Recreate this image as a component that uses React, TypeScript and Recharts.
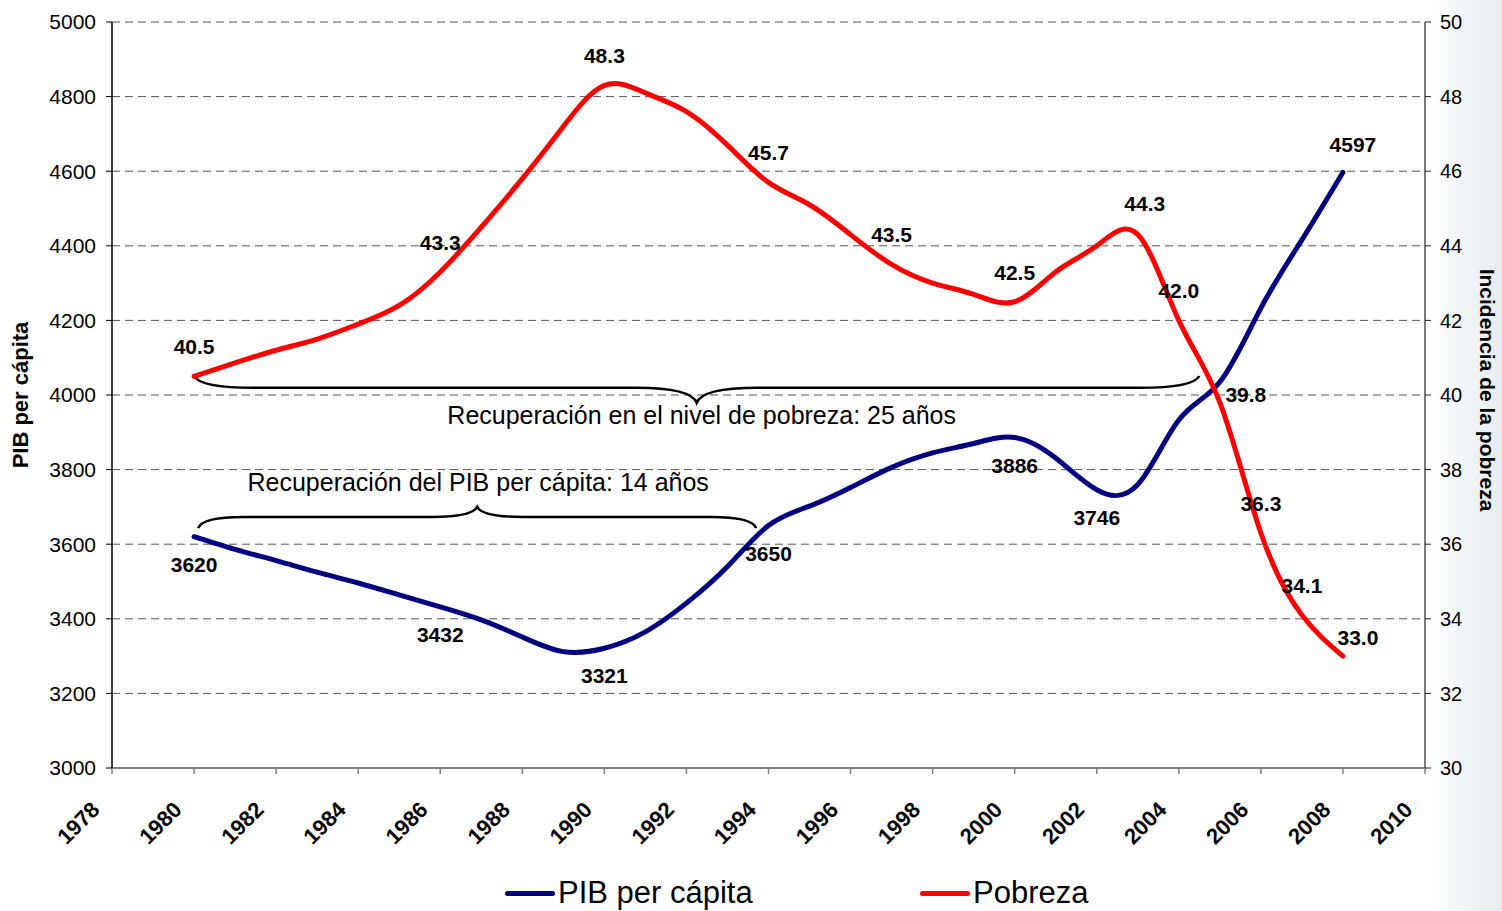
import React from 'react';
import {
  ComposedChart,
  Line,
  XAxis,
  YAxis,
  CartesianGrid,
  ReferenceArea,
  LabelList,
  Legend,
  Label,
} from 'recharts';

// ---------- data ----------
const years = [
  1980, 1981, 1982, 1983, 1984, 1985, 1986, 1987, 1988, 1989, 1990, 1991, 1992, 1993, 1994,
  1995, 1996, 1997, 1998, 1999, 2000, 2001, 2002, 2003, 2004, 2005, 2006, 2007, 2008,
];
const pibPerCapita = [
  3620, 3586, 3556, 3525, 3496, 3464, 3432, 3397, 3351, 3312, 3321, 3365, 3442, 3540, 3650,
  3702, 3752, 3806, 3845, 3870, 3886, 3831, 3746, 3760, 3933, 4035, 4233, 4416, 4597,
];
const pobreza = [
  40.5, 40.86, 41.2, 41.5, 41.9, 42.4, 43.3, 44.5, 45.8, 47.2, 48.3, 48.1, 47.6, 46.7, 45.7,
  45.1, 44.3, 43.5, 43.0, 42.7, 42.5, 43.3, 44.0, 44.3, 42.0, 39.8, 36.3, 34.1, 33.0,
];
const xTicks = [1978, 1980, 1982, 1984, 1986, 1988, 1990, 1992, 1994, 1996, 1998, 2000, 2002, 2004, 2006, 2008, 2010];
const pibTicks = [3000, 3200, 3400, 3600, 3800, 4000, 4200, 4400, 4600, 4800, 5000];
const pobrezaTicks = [30, 32, 34, 36, 38, 40, 42, 44, 46, 48, 50];
const pibLabelYears = [1980, 1986, 1990, 1994, 2000, 2002, 2008];
const pobrezaLabelYears = [1980, 1986, 1990, 1994, 1997, 2000, 2003, 2004, 2005, 2006, 2007, 2008];
const seriesNames = ['PIB per cápita', 'Pobreza'];
const axisTitles = ['PIB per cápita', 'Incidencia de la pobreza'];
const braceTexts = [
  'Recuperación en el nivel de pobreza: 25 años',
  'Recuperación del PIB per cápita: 14 años',
];
// brace extents in data units (years / PIB axis)
const pobrezaBraceX = [1980, 2004.5];
const pobrezaBraceY = [3979, 4051];
const pibBraceX = [1980.1, 1993.7];
const pibBraceY = [3643, 3700];

const data = years.map((year, i) => ({
  year,
  pib: pibPerCapita[i],
  pobreza: pobreza[i],
  pibLabel: pibLabelYears.includes(year) ? String(pibPerCapita[i]) : null,
  pobrezaLabel: pobrezaLabelYears.includes(year) ? pobreza[i].toFixed(1) : null,
}));

// ---------- styles ----------
const FONT = "Arial, 'Liberation Sans', sans-serif";
const NAVY = '#000080';
const RED = '#FF0000';

const pibLabelOffsets: Record<number, [number, number]> = {
  2008: [10, -20],
};
const pobrezaLabelOffsets: Record<number, [number, number]> = {
  2003: [7, -24],
  2005: [26, 0],
  2008: [15, -11],
};

const makeLabel = (offsets: Record<number, [number, number]>, def: [number, number]) => (props: any) => {
  const { value, index } = props;
  if (value === null || value === undefined || value === '') return null;
  const px = props.x ?? props.viewBox?.x;
  const py = props.y ?? props.viewBox?.y;
  const yr = years[index];
  const [dx, dy] = offsets[yr] ?? def;
  return (
    <text
      x={px + dx}
      y={py + dy}
      textAnchor="middle"
      fontFamily={FONT}
      fontSize={21}
      fontWeight="bold"
      fill="#000"
    >
      {value}
    </text>
  );
};

const XTick = (props: any) => {
  const { x, y, payload } = props;
  const tx = x - 11;
  const ty = y + 35;
  return (
    <text
      x={tx}
      y={ty}
      transform={`rotate(-45 ${tx} ${ty})`}
      textAnchor="end"
      fontFamily={FONT}
      fontSize={22}
      fontWeight="bold"
      fill="#000"
    >
      {payload.value}
    </text>
  );
};

const LeftTitle = (props: any) => {
  const vb = props.viewBox || { x: 0, y: 22, width: 112, height: 746 };
  const cx = vb.x + 28;
  const cy = vb.y + vb.height / 2;
  return (
    <text
      x={cx}
      y={cy}
      transform={`rotate(-90 ${cx} ${cy})`}
      textAnchor="middle"
      fontFamily={FONT}
      fontSize={22}
      fontWeight="bold"
      fill="#000"
    >
      {axisTitles[0]}
    </text>
  );
};

const RightTitle = (props: any) => {
  const vb = props.viewBox || { x: 1425, y: 22, width: 77, height: 746 };
  const cx = vb.x + 55;
  const cy = vb.y + vb.height / 2 - 5;
  return (
    <text
      x={cx}
      y={cy}
      transform={`rotate(90 ${cx} ${cy})`}
      textAnchor="middle"
      fontFamily={FONT}
      fontSize={21}
      fontWeight="bold"
      fill="#000"
    >
      {axisTitles[1]}
    </text>
  );
};

// underbrace (tips at top, cusp at bottom) with text below
const PobrezaBrace = (props: any) => {
  const { x, y, width, height } = props;
  const x1 = x;
  const x2 = x + width;
  const xm = x + width / 2;
  const top = y;
  const bottom = y + height;
  const line = top + height * 0.44;
  const d = `M ${x1} ${top} Q ${x1 + 6} ${line} ${x1 + 60} ${line} L ${xm - 60} ${line} Q ${xm - 6} ${line} ${xm} ${bottom} Q ${xm + 6} ${line} ${xm + 60} ${line} L ${x2 - 60} ${line} Q ${x2 - 6} ${line} ${x2} ${top}`;
  return (
    <g>
      <path d={d} fill="none" stroke="#000" strokeWidth={2.5} />
      <text x={xm + 5} y={bottom + 21} textAnchor="middle" fontFamily={FONT} fontSize={25} fill="#000">
        {braceTexts[0]}
      </text>
    </g>
  );
};

// overbrace (tips at bottom, cusp at top) with text above
const PibBrace = (props: any) => {
  const { x, y, width, height } = props;
  const x1 = x;
  const x2 = x + width;
  const xm = x + width / 2;
  const top = y;
  const bottom = y + height;
  const line = top + height * 0.47;
  const d = `M ${x1} ${bottom} Q ${x1 + 4} ${line} ${x1 + 45} ${line} L ${xm - 45} ${line} Q ${xm - 5} ${line} ${xm} ${top} Q ${xm + 5} ${line} ${xm + 45} ${line} L ${x2 - 45} ${line} Q ${x2 - 4} ${line} ${x2} ${bottom}`;
  return (
    <g>
      <path d={d} fill="none" stroke="#000" strokeWidth={2.5} />
      <text x={xm + 1} y={top - 16} textAnchor="middle" fontFamily={FONT} fontSize={25} fill="#000">
        {braceTexts[1]}
      </text>
    </g>
  );
};

const renderLegend = () => {
  const item = (name: string, color: string, left: number) => (
    <div
      key={name}
      style={{
        position: 'absolute',
        left,
        top: 0,
        display: 'flex',
        alignItems: 'center',
        height: 40,
      }}
    >
      <span
        style={{
          display: 'inline-block',
          width: 50,
          height: 5,
          borderRadius: 3,
          background: color,
          marginRight: 3,
        }}
      />
      <span style={{ fontFamily: FONT, fontSize: 31, color: '#000', lineHeight: '40px', whiteSpace: 'nowrap' }}>
        {name}
      </span>
    </div>
  );
  return (
    <div style={{ position: 'relative', width: 1502, height: 40 }}>
      {item(seriesNames[0], NAVY, 505)}
      {item(seriesNames[1], RED, 920)}
    </div>
  );
};

export default function App() {
  return (
    <div
      style={{
        position: 'absolute',
        left: 0,
        top: 0,
        width: 1502,
        height: 911,
        background: 'linear-gradient(to right, #ffffff 0px, #ffffff 1430px, #eef3f6 1470px, #e6ecf0 1502px)',
      }}
    >
      <ComposedChart
        width={1502}
        height={911}
        data={data}
        margin={{ top: 22, right: 0, bottom: 0, left: 0 }}
      >
        <CartesianGrid
          yAxisId="left"
          vertical={false}
          stroke="#555"
          strokeDasharray="8 5"
          strokeWidth={1}
        />
        <XAxis
          dataKey="year"
          type="number"
          domain={[1978, 2010]}
          ticks={xTicks}
          interval={0}
          height={143}
          axisLine={{ stroke: '#808080', strokeWidth: 2 }}
          tickLine={{ stroke: '#808080', strokeWidth: 1.5 }}
          tickSize={6}
          tick={<XTick />}
        />
        <YAxis
          yAxisId="left"
          domain={[3000, 5000]}
          ticks={pibTicks}
          interval={0}
          width={112}
          axisLine={{ stroke: '#000', strokeWidth: 1.5 }}
          tickLine={{ stroke: '#000' }}
          tickSize={6}
          tickMargin={10}
          tick={{ fill: '#000', fontSize: 21, fontFamily: FONT }}
          label={<Label content={LeftTitle} />}
        />
        <YAxis
          yAxisId="right"
          orientation="right"
          domain={[30, 50]}
          ticks={pobrezaTicks}
          interval={0}
          width={77}
          axisLine={{ stroke: '#222', strokeWidth: 1.2 }}
          tickLine={{ stroke: '#222' }}
          tickSize={6}
          tickMargin={9}
          tick={{ fill: '#000', fontSize: 20, fontFamily: FONT }}
          label={<Label content={RightTitle} />}
        />
        <ReferenceArea
          yAxisId="left"
          x1={pobrezaBraceX[0]}
          x2={pobrezaBraceX[1]}
          y1={pobrezaBraceY[0]}
          y2={pobrezaBraceY[1]}
          shape={PobrezaBrace}
          ifOverflow="visible"
        />
        <ReferenceArea
          yAxisId="left"
          x1={pibBraceX[0]}
          x2={pibBraceX[1]}
          y1={pibBraceY[0]}
          y2={pibBraceY[1]}
          shape={PibBrace}
          ifOverflow="visible"
        />
        <Line
          yAxisId="left"
          type="natural"
          dataKey="pib"
          name={seriesNames[0]}
          stroke={NAVY}
          strokeWidth={5}
          strokeLinecap="round"
          strokeLinejoin="round"
          dot={false}
          activeDot={false}
          isAnimationActive={false}
        >
          <LabelList dataKey="pibLabel" content={makeLabel(pibLabelOffsets, [0, 35])} />
        </Line>
        <Line
          yAxisId="right"
          type="natural"
          dataKey="pobreza"
          name={seriesNames[1]}
          stroke={RED}
          strokeWidth={5}
          strokeLinecap="round"
          strokeLinejoin="round"
          dot={false}
          activeDot={false}
          isAnimationActive={false}
        >
          <LabelList dataKey="pobrezaLabel" content={makeLabel(pobrezaLabelOffsets, [0, -22])} />
        </Line>
        <Legend
          layout="horizontal"
          verticalAlign="middle"
          align="center"
          content={renderLegend}
          wrapperStyle={{ top: 873, left: 0, width: 1502, height: 40 }}
        />
      </ComposedChart>
    </div>
  );
}
